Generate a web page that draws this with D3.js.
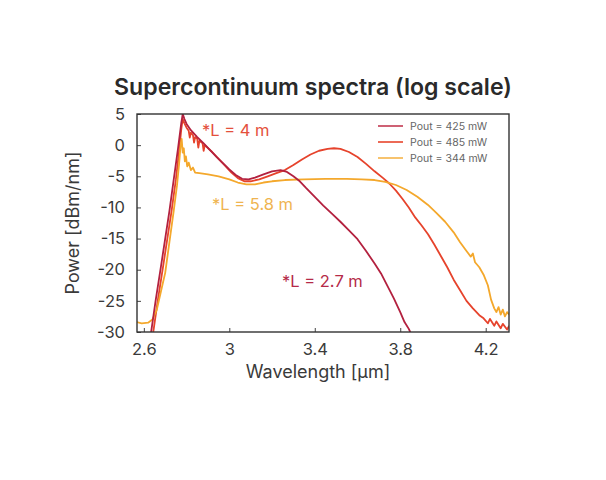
<!DOCTYPE html>
<html>
<head>
<meta charset="utf-8">
<script src="https://cdn.jsdelivr.net/npm/d3@7"></script>
<style>
  body { margin: 0; background: #fff; }
  svg { display: block; }
</style>
</head>
<body>
<div id="chart"></div>
<script>
// Spectra: [wavelength µm, power dBm/nm]
const series425 = [
  [2.63,-31],[2.655,-25],[2.68,-19.5],[2.70,-15],[2.72,-10.5],[2.74,-5.5],[2.76,-0.5],
  [2.775,3.5],[2.782,5],[2.79,4.2],[2.80,3.4],[2.82,2.4],[2.85,1.3],[2.88,0.3],[2.91,-0.8],
  [2.94,-1.9],[2.97,-2.9],[3.00,-3.9],[3.03,-4.8],[3.06,-5.4],[3.09,-5.5],[3.12,-5.2],
  [3.16,-4.7],[3.20,-4.2],[3.24,-4.0],[3.27,-4.3],[3.30,-5.0],[3.33,-5.8],[3.36,-6.9],
  [3.40,-8.3],[3.44,-9.7],[3.48,-11.0],[3.52,-12.3],[3.56,-13.7],[3.60,-15.1],[3.64,-17.0],
  [3.68,-19.0],[3.71,-20.6],[3.74,-22.6],[3.77,-24.6],[3.80,-26.8],[3.82,-28.4],[3.84,-29.5],[3.86,-31]
];
const series485 = [
  [2.64,-31],[2.665,-25],[2.69,-19.5],[2.71,-15],[2.73,-10.5],[2.75,-5.5],[2.765,-1],
  [2.775,2.5],[2.782,4.2],[2.79,3.5],[2.80,2.8],[2.81,2.3],[2.815,1.2],[2.82,2.0],[2.83,1.6],
  [2.835,0.4],[2.84,1.3],[2.85,1.0],[2.855,-0.4],[2.86,0.7],[2.875,0.3],[2.88,-0.9],[2.885,0.0],
  [2.92,-1.1],[2.95,-2.2],[2.98,-3.3],[3.01,-4.4],[3.04,-5.3],[3.07,-5.8],[3.10,-5.8],[3.14,-5.5],
  [3.18,-5.0],[3.22,-4.5],[3.26,-4.0],[3.30,-3.2],[3.34,-2.3],[3.38,-1.5],[3.42,-0.9],[3.46,-0.6],
  [3.49,-0.5],[3.52,-0.6],[3.56,-1.1],[3.60,-1.9],[3.64,-3.0],[3.68,-4.2],[3.72,-5.3],[3.75,-6.2],
  [3.78,-7.3],[3.81,-8.6],[3.84,-10.0],[3.87,-11.6],[3.90,-12.9],[3.93,-14.3],[3.96,-16.0],
  [3.99,-17.8],[4.02,-19.6],[4.05,-21.6],[4.08,-23.3],[4.11,-25.0],[4.14,-26.2],[4.17,-27.3],
  [4.19,-27.8],[4.21,-28.6],[4.22,-27.9],[4.24,-29.0],[4.25,-28.3],[4.27,-29.4],[4.28,-28.7],
  [4.30,-29.6],[4.31,-29.0]
];
const series344 = [
  [2.565,-28.4],[2.59,-28.6],[2.62,-28.5],[2.64,-28],[2.66,-26.5],[2.68,-23.5],[2.70,-20.5],
  [2.72,-15.5],[2.74,-10.5],[2.755,-6.5],[2.765,-3],[2.772,0],[2.777,1.0],[2.782,-1.2],
  [2.787,-0.5],[2.792,-2.6],[2.797,-1.8],[2.803,-3.4],[2.81,-2.8],[2.82,-4.0],[2.83,-3.6],
  [2.84,-4.4],[2.86,-4.5],[2.90,-4.7],[2.95,-5.0],[3.00,-5.5],[3.04,-6.0],[3.08,-6.3],
  [3.12,-6.3],[3.16,-6.0],[3.20,-5.8],[3.26,-5.6],[3.35,-5.5],[3.45,-5.4],[3.55,-5.4],
  [3.62,-5.5],[3.68,-5.6],[3.73,-5.9],[3.78,-6.4],[3.83,-7.2],[3.88,-8.3],[3.93,-9.6],
  [3.97,-10.9],[4.01,-12.3],[4.05,-14.0],[4.08,-15.6],[4.11,-17.0],[4.13,-17.9],[4.14,-17.4],
  [4.15,-18.8],[4.17,-19.6],[4.19,-20.8],[4.21,-22.5],[4.225,-24.8],[4.24,-26.2],[4.25,-26.8],
  [4.26,-26.0],[4.27,-27.2],[4.28,-26.4],[4.29,-27.5],[4.30,-26.8],[4.31,-27.2]
];

const legendLabels = ["Pout = 425 mW", "Pout = 485 mW", "Pout = 344 mW"];
const lengthLabels = ["*L = 2.7 m", "*L = 4 m", "*L = 5.8 m"];
const xTicks = [2.6, 3, 3.4, 3.8, 4.2];
const yTicks = [5, 0, -5, -10, -15, -20, -25, -30];

const width = 606, height = 480;
const margin = { top: 114, right: 97, bottom: 148, left: 137 };
const font = "Inter, 'Open Sans', sans-serif";

const x = d3.scaleLinear().domain([2.568, 4.309]).range([margin.left, width - margin.right]);
const y = d3.scaleLinear().domain([-30, 5]).range([height - margin.bottom, margin.top]);

const svg = d3.select("#chart").append("svg")
  .attr("width", width)
  .attr("height", height)
  .style("font-family", font);

// title
const title = svg.append("text")
  .attr("x", 313).attr("y", 95)
  .attr("text-anchor", "middle")
  .attr("font-size", 19).attr("font-weight", 600)
  .attr("fill", "#2a2a2a")
  .text("Supercontinuum spectra (log scale)");
// squeeze to the width seen in the figure
const tw = title.node().getComputedTextLength();
title.attr("font-size", 19 * 398 / tw);

svg.append("clipPath").attr("id", "plot")
  .append("rect")
  .attr("x", margin.left).attr("y", margin.top)
  .attr("width", width - margin.left - margin.right)
  .attr("height", height - margin.top - margin.bottom);

const line = d3.line().x(d => x(d[0])).y(d => y(d[1]));

const series = [
  { data: series485, color: "#e6432c" },
  { data: series344, color: "#f4a82c" },
  { data: series425, color: "#b3213f" },
];

svg.append("g").attr("clip-path", "url(#plot)")
  .selectAll("path")
  .data(series)
  .join("path")
  .attr("d", d => line(d.data))
  .attr("fill", "none")
  .attr("stroke", d => d.color)
  .attr("stroke-width", 1.8)
  .attr("stroke-linejoin", "round");

// axes (labels keep the plain hyphen of the original)
const xAxis = svg.append("g")
  .attr("transform", `translate(0,${height - margin.bottom})`)
  .call(d3.axisBottom(x).tickValues(xTicks).tickFormat(String).tickSizeInner(-4).tickSizeOuter(0).tickPadding(11));
const yAxis = svg.append("g")
  .attr("transform", `translate(${margin.left},0)`)
  .call(d3.axisLeft(y).tickValues(yTicks).tickFormat(String).tickSizeInner(-4).tickSizeOuter(0).tickPadding(12));

[xAxis, yAxis].forEach(g => {
  g.select(".domain").remove();
  g.selectAll("line").attr("stroke", "#444");
  g.selectAll("text").attr("font-size", 16.5).attr("fill", "#3a3a3a").style("font-family", font);
});

svg.append("rect")
  .attr("x", margin.left).attr("y", margin.top)
  .attr("width", width - margin.left - margin.right)
  .attr("height", height - margin.top - margin.bottom)
  .attr("fill", "none")
  .attr("stroke", "#333")
  .attr("stroke-width", 1.4);

// axis titles
svg.append("text")
  .attr("x", 318).attr("y", 378)
  .attr("text-anchor", "middle")
  .attr("font-size", 18).attr("fill", "#3a3a3a")
  .text("Wavelength [µm]");

svg.append("text")
  .attr("transform", `translate(79,${(margin.top + height - margin.bottom) / 2}) rotate(-90)`)
  .attr("text-anchor", "middle")
  .attr("font-size", 18).attr("fill", "#3a3a3a")
  .text("Power [dBm/nm]");

// length annotations
const notes = [
  { text: lengthLabels[1], x: 202, y: 136, color: "#e4503c" },
  { text: lengthLabels[2], x: 212, y: 210, color: "#efb450" },
  { text: lengthLabels[0], x: 282, y: 287, color: "#b52a48" },
];
svg.selectAll(".note")
  .data(notes)
  .join("text")
  .attr("class", "note")
  .attr("x", d => d.x).attr("y", d => d.y)
  .attr("font-size", 16.5)
  .attr("fill", d => d.color)
  .text(d => d.text);

// legend
const legendColors = ["#c23a52", "#e8452c", "#f5b54a"];
const legend = svg.append("g").attr("transform", "translate(378,126)");
legendLabels.forEach((label, i) => {
  const row = legend.append("g").attr("transform", `translate(0,${i * 16})`);
  row.append("line")
    .attr("x1", 0).attr("x2", 25)
    .attr("stroke", legendColors[i]).attr("stroke-width", 1.6);
  row.append("text")
    .attr("x", 32).attr("dy", "0.35em")
    .attr("font-size", 10.5).attr("fill", "#666")
    .text(label);
});
</script>
</body>
</html>
